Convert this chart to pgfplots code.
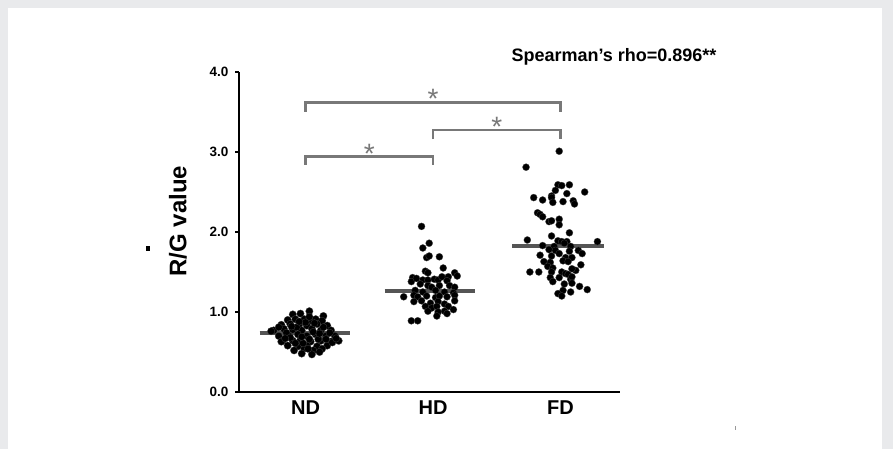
\documentclass[border=0pt]{standalone}
\usepackage{fontspec}
\setmainfont{Liberation Sans}
\usepackage{pgfplots}
\pgfplotsset{compat=1.18}

\definecolor{frame}{RGB}{233,234,236}
\definecolor{brk}{RGB}{120,120,120}
\definecolor{med}{RGB}{85,85,85}

\begin{document}
\begin{tikzpicture}
\useasboundingbox (0,0) rectangle (893bp,449bp);
\fill[frame] (0,0) rectangle (893bp,449bp);
\fill[white] (8bp,0) rectangle (882bp,441bp);

\begin{axis}[
    at={(239bp,57bp)}, anchor=south west,
    scale only axis,
    width=381bp, height=320bp,
    xmin=0.478, xmax=3.467,
    ymin=0, ymax=4,
    axis lines=left,
    axis line style={-, line width=2bp, black},
    xtick={1,2,3},
    xticklabels={ND,HD,FD},
    major x tick style={draw=none},
    xticklabel style={font=\fontsize{20bp}{22bp}\selectfont\bfseries, yshift=-1bp},
    ytick={0,1,2,3,4},
    yticklabels={0.0,1.0,2.0,3.0,4.0},
    yticklabel style={font=\fontsize{13.5bp}{14bp}\selectfont\bfseries, xshift=-3bp},
    tick align=outside,
    major tick length=4bp,
    major y tick style={line width=1.5bp, black},
    clip=false,
]

% median lines
\addplot[med, line width=4bp] coordinates {(0.64,0.74) (1.35,0.74)};
\addplot[med, line width=4bp] coordinates {(1.62,1.26) (2.33,1.26)};
\addplot[med, line width=4bp] coordinates {(2.62,1.83) (3.34,1.83)};

% ND
\addplot[only marks, mark=*, mark size=3.7bp, mark options={fill=black, draw=black!75, line width=0.3bp}] coordinates {
(1.03,1.01) (0.90,0.97) (0.96,0.98) (1.14,0.95)
(0.86,0.90) (0.92,0.91) (0.99,0.91) (1.04,0.89) (1.08,0.91) (1.13,0.89)
(0.81,0.84) (0.88,0.85) (0.95,0.84) (1.01,0.83) (1.09,0.85) (1.17,0.83)
(0.75,0.77) (0.83,0.79) (0.90,0.78) (0.97,0.77) (1.05,0.79) (1.12,0.77) (1.20,0.77)
(0.79,0.70) (0.87,0.70) (0.94,0.72) (1.01,0.70) (1.08,0.72) (1.16,0.70) (1.23,0.70)
(0.82,0.64) (0.90,0.64) (0.96,0.65) (1.04,0.63) (1.12,0.64) (1.20,0.63) (1.26,0.64)
(0.86,0.58) (0.94,0.57) (1.01,0.58) (1.09,0.57) (1.17,0.58) (1.21,0.62)
(0.91,0.52) (0.99,0.54) (1.06,0.52) (1.13,0.54)
(0.97,0.48) (1.05,0.47) (1.11,0.50)
(0.73,0.76) (0.81,0.63)
(0.85,0.74) (0.93,0.81) (1.00,0.87) (1.06,0.75) (1.14,0.81)
(0.98,0.61) (1.10,0.66) (0.88,0.68) (1.03,0.94) (0.95,0.88)
(0.79,0.81) (0.84,0.67) (0.92,0.61) (0.97,0.69) (1.03,0.66) (1.07,0.86)
(1.11,0.73) (1.16,0.66) (1.19,0.74) (1.24,0.67) (1.02,0.54) (0.89,0.82)
};

% HD
\addplot[only marks, mark=*, mark size=3.5bp, mark options={fill=black, draw=black!75, line width=0.3bp}] coordinates {
(1.91,2.07) (1.97,1.86) (1.92,1.80) (1.95,1.68) (1.97,1.70) (2.05,1.69)
(2.08,1.55) (1.94,1.51) (1.96,1.49) (2.17,1.49)
(1.84,1.43) (1.83,1.38) (1.87,1.42) (1.92,1.40) (1.96,1.40) (2.01,1.41)
(2.04,1.40) (2.07,1.44) (2.12,1.44) (2.11,1.39) (2.19,1.45)
(1.90,1.35) (1.96,1.33) (1.99,1.31) (2.05,1.33) (2.13,1.33) (2.17,1.31)
(1.86,1.27) (1.92,1.25) (2.02,1.27) (2.09,1.25) (2.16,1.24)
(1.77,1.19) (1.85,1.21) (1.88,1.19) (1.95,1.20) (2.02,1.18) (2.05,1.20) (2.11,1.19) (2.17,1.21)
(1.85,1.13) (1.91,1.14) (1.98,1.11) (2.04,1.13) (2.09,1.10) (2.17,1.14)
(1.94,1.07) (1.99,1.05) (2.03,1.07) (2.12,1.07)
(1.96,1.01) (2.04,1.00) (2.09,1.01) (2.16,1.03)
(2.03,0.95) (2.11,0.98)
(1.83,0.89) (1.88,0.89)
};

% FD
\addplot[only marks, mark=*, mark size=3.5bp, mark options={fill=black, draw=black!75, line width=0.3bp}] coordinates {
(2.99,3.01) (2.73,2.81)
(2.98,2.59) (3.01,2.58) (3.07,2.59) (2.96,2.52) (3.19,2.50) (2.93,2.45) (3.05,2.48)
(2.79,2.43) (2.86,2.40) (2.93,2.43) (2.94,2.37) (3.02,2.38) (3.10,2.39) (3.11,2.35)
(2.82,2.24) (2.84,2.22) (2.86,2.19) (2.91,2.13) (2.93,2.14) (2.99,2.16) (2.99,2.09)
(3.07,1.99) (2.93,1.95) (2.74,1.90) (3.29,1.88)
(2.98,1.89) (3.01,1.88) (3.05,1.88) (3.03,1.86)
(2.86,1.83) (2.95,1.82) (3.08,1.82)
(2.91,1.78) (2.96,1.77) (3.07,1.76) (3.14,1.77) (3.17,1.73)
(2.84,1.71) (2.93,1.70) (2.99,1.73) (3.04,1.68) (3.09,1.68)
(2.87,1.63) (2.92,1.62) (3.02,1.64) (3.06,1.63) (3.16,1.59)
(2.90,1.57) (2.94,1.55) (3.12,1.52) (3.09,1.54)
(2.76,1.50) (2.83,1.50) (2.93,1.50) (3.01,1.50) (3.04,1.48) (3.06,1.47)
(2.92,1.43) (2.99,1.43) (3.08,1.41) (3.09,1.44)
(2.94,1.38) (3.03,1.35) (3.09,1.36) (3.15,1.32)
(3.21,1.28) (3.02,1.27) (3.08,1.25)
(2.98,1.23) (3.01,1.20)
};

% significance brackets
\addplot[brk, line width=2.8bp] coordinates {(1,3.50) (1,3.62) (3,3.62) (3,3.50)};
\addplot[brk, line width=2.8bp] coordinates {(2,3.16) (2,3.275) (3,3.275) (3,3.16)};
\addplot[brk, line width=2.8bp] coordinates {(1,2.84) (1,2.94) (2,2.94) (2,2.84)};
\node[brk, font=\fontsize{28bp}{28bp}\selectfont] at (axis cs:2,3.66) {*};
\node[brk, font=\fontsize{28bp}{28bp}\selectfont] at (axis cs:2.5,3.32) {*};
\node[brk, font=\fontsize{28bp}{28bp}\selectfont] at (axis cs:1.5,2.98) {*};
\end{axis}

\node[rotate=90, font=\fontsize{24bp}{26bp}\selectfont\bfseries] at (178bp,228bp) {R/G value};
\fill[black] (145.5bp,198bp) rectangle (149.5bp,203bp);
\node[font=\fontsize{18bp}{20bp}\selectfont\bfseries] at (614bp,392bp) {Spearman’s rho=0.896**};
\fill[black!40] (734.5bp,19bp) rectangle (735.3bp,23bp);
\end{tikzpicture}
\end{document}
